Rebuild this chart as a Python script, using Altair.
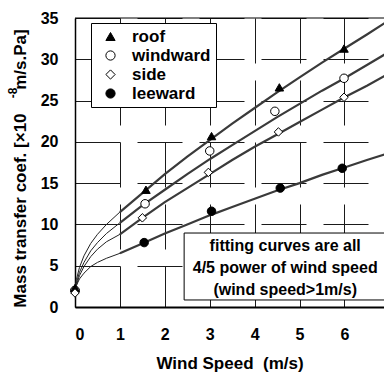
import altair as alt
import pandas as pd

# ---------------- data ----------------
series = ["roof", "windward", "side", "leeward"]

# measured points (wind speed, mass transfer coef.)
roof_x = [0.0, 1.58, 3.04, 4.55, 5.99]
roof_y = [2.3, 14.2, 20.7, 26.6, 31.3]
windward_x = [0.0, 1.56, 3.0, 4.45, 5.99]
windward_y = [2.0, 12.5, 18.9, 23.7, 27.7]
side_x = [0.0, 1.5, 2.97, 4.53, 5.99]
side_y = [1.7, 10.8, 16.3, 21.2, 25.4]
leeward_x = [0.0, 1.54, 3.04, 4.57, 5.95]
leeward_y = [2.0, 7.8, 11.6, 14.4, 16.8]

# thick fitted curves (wind speed > 1 m/s)
fit_x = [1.0, 1.5, 2.0, 2.5, 3.0, 3.5, 4.0, 4.5, 5.0, 5.5, 6.0, 6.5, 6.9]
roof_fit = [11.5, 13.8, 16.1, 18.2, 20.2, 22.2, 24.1, 26.0, 27.8, 29.6, 31.3, 33.0, 34.4]
windward_fit = [10.2, 12.3, 14.2, 16.1, 17.9, 19.6, 21.3, 23.0, 24.6, 26.2, 27.7, 29.3, 30.6]
side_fit = [8.8, 10.8, 12.7, 14.4, 16.1, 17.8, 19.4, 20.9, 22.4, 23.9, 25.4, 26.8, 28.0]
leeward_fit = [6.5, 7.7, 8.9, 10.0, 11.1, 12.1, 13.1, 14.1, 15.0, 16.0, 16.9, 17.8, 18.5]

# thin curve parts (wind speed < 1 m/s)
thin_x = [0.0, 0.03, 0.1, 0.2, 0.35, 0.5, 0.7, 1.0]
roof_thin = [2.3, 3.3, 4.8, 6.2, 7.7, 8.8, 10.0, 11.5]
windward_thin = [2.0, 2.9, 4.2, 5.4, 6.8, 7.8, 8.9, 10.2]
side_thin = [1.7, 2.6, 3.8, 4.9, 6.1, 7.0, 7.9, 8.8]
leeward_thin = [2.0, 2.6, 3.4, 4.1, 4.9, 5.4, 5.9, 6.5]

x_ticks = [0, 1, 2, 3, 4, 5, 6]
y_ticks = [0, 5, 10, 15, 20, 25, 30, 35]
note_lines = ["fitting curves are all", "4/5 power of wind speed", "(wind speed>1m/s)"]

# ---------------- tables ----------------
# marker rows in drawing order (side drawn last, as in the original)
pts = pd.DataFrame(
    [(s, xv, yv) for s, xs, ys in [("leeward", leeward_x, leeward_y),
                                   ("windward", windward_x, windward_y),
                                   ("roof", roof_x, roof_y), ("side", side_x, side_y)]
     for xv, yv in zip(xs, ys)], columns=["series", "x", "y"])
fit = pd.DataFrame(
    [(s, xv, yv) for s, ys in [("roof", roof_fit), ("windward", windward_fit),
                               ("side", side_fit), ("leeward", leeward_fit)]
     for xv, yv in zip(fit_x, ys)], columns=["series", "x", "y"])
thin = pd.DataFrame(
    [(s, xv, yv) for s, ys in [("roof", roof_thin), ("windward", windward_thin),
                               ("side", side_thin), ("leeward", leeward_thin)]
     for xv, yv in zip(thin_x, ys)], columns=["series", "x", "y"])

FONT = "Liberation Sans"
NB = "\u00a0"

x_enc = alt.X("x:Q", scale=alt.Scale(domain=[0, 6.88], nice=False, zero=False),
              axis=alt.Axis(values=x_ticks, format="d", labelFontSize=16, labelFontWeight="bold",
                            labelPadding=19, ticks=False, domainColor="black", domainWidth=2,
                            grid=True, gridColor="#1a1a1a", gridWidth=1, gridDash=[45, 17],
                            title="Wind Speed" + NB + NB + "(m/s)", titleFontSize=17,
                            titleFontWeight="bold", titlePadding=13, labelColor="black",
                            titleColor="black"))
y_enc = alt.Y("y:Q", scale=alt.Scale(domain=[0, 35], nice=False),
              axis=alt.Axis(values=y_ticks, labelFontSize=16, labelFontWeight="bold",
                            labelPadding=17, ticks=False, domainColor="black", domainWidth=1.5,
                            grid=True, gridColor="#1a1a1a", gridWidth=1, gridDash=[45, 17],
                            title="Mass transfer coef. [×10" + NB * 5 + "m/s.Pa]",
                            titleFontSize=17, titleFontWeight="bold", titlePadding=11,
                            titleY=150, labelColor="black", titleColor="black"))

thin_lines = alt.Chart(thin).mark_line(color="#222222", strokeWidth=1, clip=True).encode(
    x=x_enc, y=y_enc, detail="series:N")
thick_lines = alt.Chart(fit).mark_line(color="#3a3a3a", strokeWidth=2.2, clip=True).encode(
    x=x_enc, y=y_enc, detail="series:N")

legend = alt.Legend(title=None, orient="none", legendX=16, legendY=5, strokeColor="black",
                    fillColor="white", padding=5, labelFontSize=17, labelFontWeight="bold",
                    labelColor="black", symbolSize=85, symbolStrokeWidth=1, symbolOffset=6,
                    labelOffset=13, rowPadding=1, cornerRadius=0)

markers = alt.Chart(pts).mark_point(filled=False, strokeWidth=1, opacity=1, size=72).encode(
    x=x_enc, y=y_enc,
    shape=alt.Shape("series:N", scale=alt.Scale(domain=series,
                    range=["triangle-up", "circle", "diamond", "circle"]), legend=legend),
    fill=alt.Fill("series:N", scale=alt.Scale(domain=series,
                  range=["black", "white", "white", "black"]), legend=legend),
    stroke=alt.Stroke("series:N", scale=alt.Scale(domain=series,
                      range=["black", "black", "black", "black"]), legend=legend),
)

top_frame = alt.Chart().mark_rule(color="black", strokeWidth=1).encode(y=alt.datum(35))

note_box = alt.Chart().mark_rect(fill="white", stroke="black", strokeWidth=1).encode(
    x=alt.datum(2.43), x2=alt.datum(7.5), y=alt.datum(8.96), y2=alt.datum(0.85))
note_text = alt.Chart().mark_text(font=FONT, fontSize=16, fontWeight="bold", color="black",
                                  lineHeight=22, align="center", baseline="middle").encode(
    x=alt.datum(4.68), y=alt.datum(7.4), text=alt.value(note_lines))

sup = alt.Chart().mark_text(font=FONT, fontSize=12, fontWeight="bold", color="black",
                            angle=270, align="center", baseline="middle").encode(
    x=alt.value(-62), y=alt.value(75), text=alt.value("-8"))

chart = alt.layer(thin_lines, thick_lines, note_box, note_text, markers, top_frame, sup).properties(
    width=309, height=289,
    autosize=alt.AutoSizeParams(type="none"),
    padding={"left": 75, "top": 18, "right": 0, "bottom": 67},
    background="white",
).configure(font=FONT).configure_view(stroke=None)

chart.save("out.html", embed_options={"renderer": "svg", "actions": False})
